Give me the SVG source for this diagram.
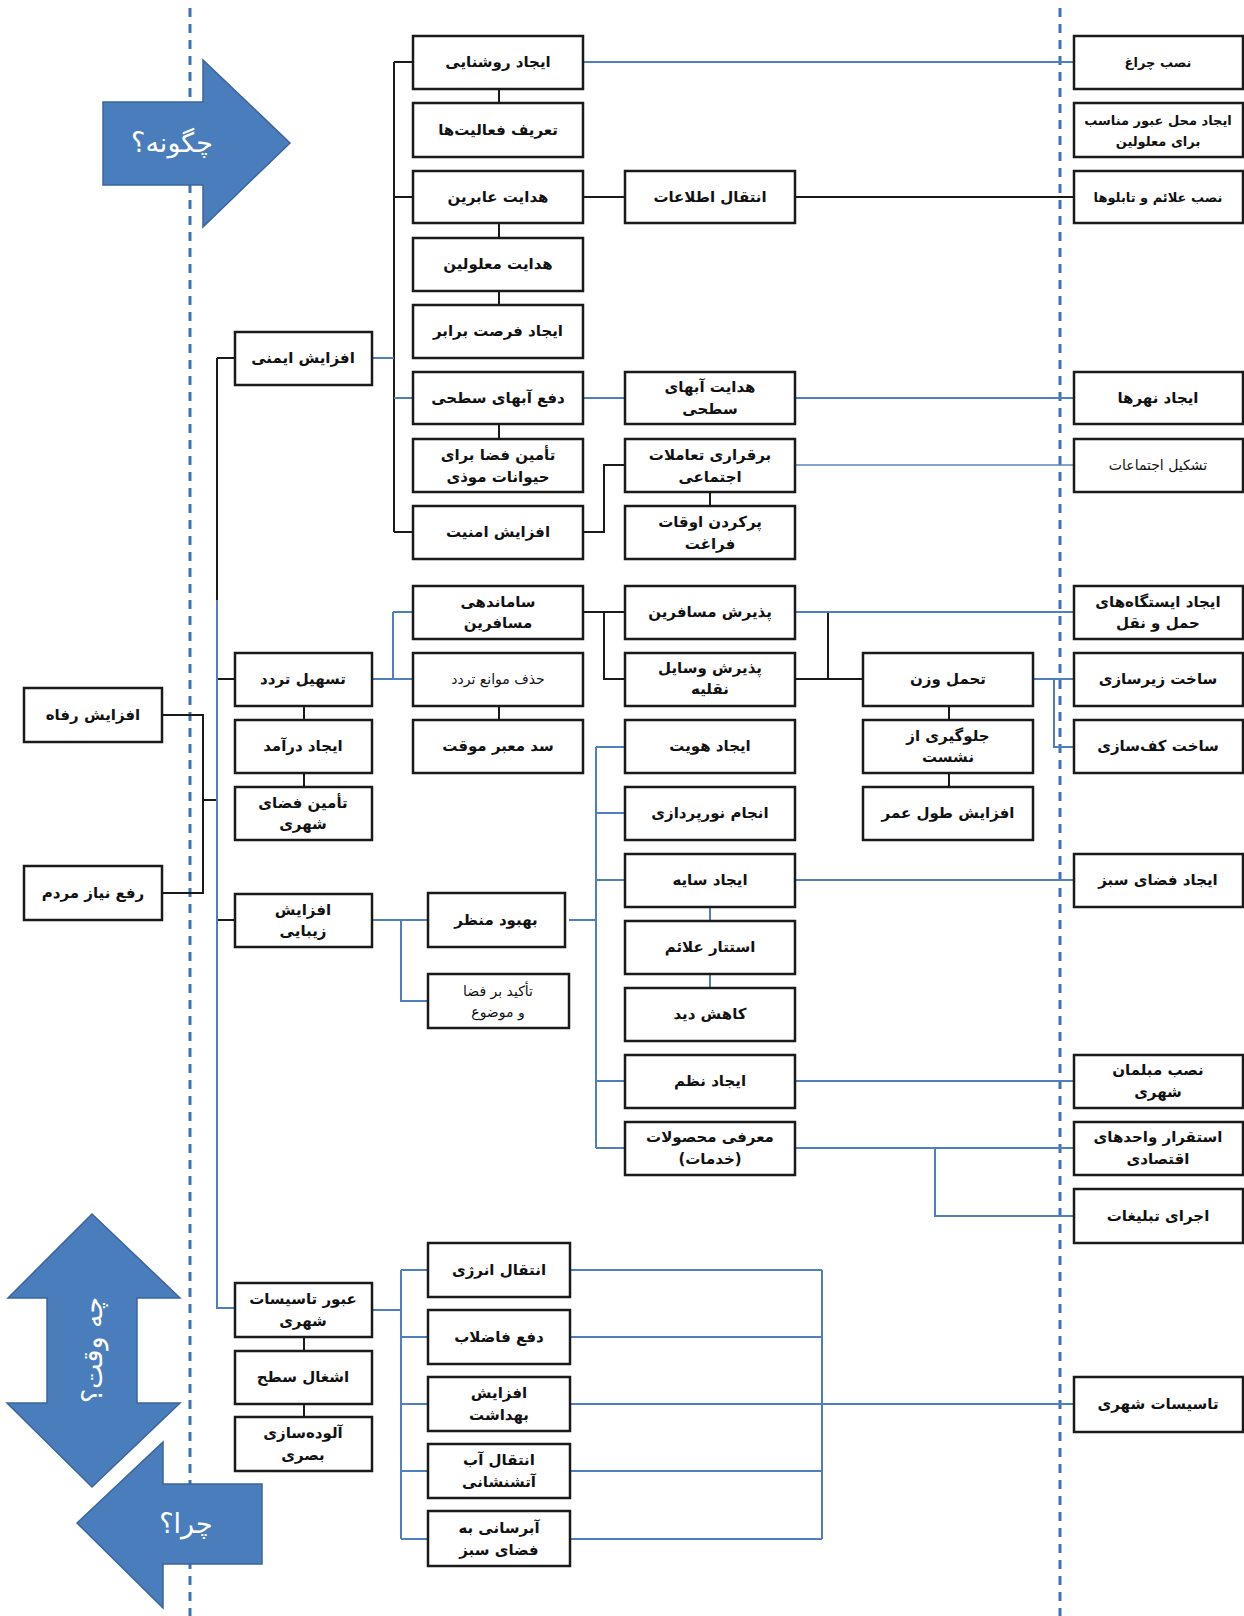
<svg xmlns="http://www.w3.org/2000/svg" width="1244" height="1616" viewBox="0 0 1244 1616">
<style>
.box rect{fill:#fff;stroke:#1a1a1a;stroke-width:2.5}
.box text{font-family:"DejaVu Sans",sans-serif;font-weight:bold;font-size:15px;fill:#111;text-anchor:middle}
.box text.s{font-size:13px}
.box text.n{font-weight:normal;font-size:14px}
.k{fill:none;stroke:#1a1a1a;stroke-width:2}
.b{fill:none;stroke:#4f7fbf;stroke-width:2}
.bt{fill:none;stroke:#5a85bd;stroke-width:1.3}
.dash{stroke:#3f72b5;stroke-width:3;stroke-dasharray:9 7}
.arrow{fill:#4a7dbb;stroke:#3a659c;stroke-width:1.5}
.at{font-family:"DejaVu Sans",sans-serif;font-size:27px;fill:#fff;text-anchor:middle}
</style>
<rect width="1244" height="1616" fill="#fff"/>
<g id="guides">
<line class="dash" x1="190" y1="8" x2="190" y2="1616"/>
<line class="dash" x1="1060" y1="8" x2="1060" y2="1616"/>
</g>
<g id="arrow-how">
<polygon class="arrow" points="103,102 203,102 203,60 290,143 203,227 203,185 103,185"/>
<text class="at" x="172" y="152" direction="rtl">چگونه؟</text>
</g>
<g id="arrow-when">
<polygon class="arrow" points="92,1214 180,1298 137,1298 137,1403 180,1403 92,1487 7,1403 47,1403 47,1298 8,1298"/>
<text class="at" transform="translate(102,1350) rotate(-90)" direction="rtl">چه وقت؟</text>
</g>
<g id="arrow-why">
<polygon class="arrow" points="77,1523 163,1442 163,1484 262,1484 262,1564 163,1564 163,1608"/>
<text class="at" x="186" y="1533" direction="rtl">چرا؟</text>
</g>
<g id="connectors">
<path class="k" d="M394 62V532M394 62H413M394 197H413M394 532H413"/>
<path class="k" d="M583 197H625M795 197H1074"/>
<path class="k" d="M583 532H604V465H625"/>
<path class="k" d="M499 89V103M499 223V238M499 291V305M499 424V439M499 706V720M710 492V506M949 706V720M949 773V787M304 706V720M304 773V787M304 1337V1351M304 1404V1417"/>
<path class="k" d="M217 358V600M217 358H235M217 679H235M217 920H235"/>
<path class="k" d="M162 715H203V893H162M203 800H217"/>
<path class="k" d="M583 612H625M604 612V679H625"/>
<path class="k" d="M828 612V679M795 679H863"/>
<path class="b" d="M372 358H394M394 398H413M583 62H1074M583 398H625M795 398H1074"/>
<path class="bt" d="M795 465H1074"/>
<path class="b" d="M217 600V1308H235"/>
<path class="b" d="M372 679H393M393 612V679M393 612H413M393 679H413"/>
<path class="b" d="M795 612H1074"/>
<path class="b" d="M1033 679H1074M1054 679V747H1074"/>
<path class="b" d="M372 920H428M401 920V1001H428"/>
<path class="b" d="M569 920H596M596 747V1148M596 747H625M596 813H625M596 880H625M596 1081H625M596 1148H625"/>
<path class="b" d="M710 907V921M710 974V988"/>
<path class="b" d="M795 880H1074M795 1081H1074M795 1148H1074M935 1148V1216H1074"/>
<path class="b" d="M372 1310H401M401 1270V1539M401 1270H428M401 1337H428M401 1404H428M401 1471H428M401 1539H428"/>
<path class="b" d="M570 1270H822M570 1337H822M570 1404H822M570 1471H822M570 1539H822M822 1270V1539M822 1404H1074"/>
</g>
<g id="n-refah" class="box"><rect x="24" y="688" width="138" height="54"/><text x="93" y="720" direction="rtl">افزایش رفاه</text></g>
<g id="n-niaz" class="box"><rect x="24" y="866" width="138" height="54"/><text x="93" y="898" direction="rtl">رفع نیاز مردم</text></g>
<g id="n-imeni" class="box"><rect x="235" y="332" width="137" height="53"/><text x="303" y="363" direction="rtl">افزایش ایمنی</text></g>
<g id="n-tashil" class="box"><rect x="235" y="653" width="137" height="53"/><text x="303" y="684" direction="rtl">تسهیل تردد</text></g>
<g id="n-daramad" class="box"><rect x="235" y="720" width="137" height="53"/><text x="303" y="751" direction="rtl">ایجاد درآمد</text></g>
<g id="n-fazaye-shahri" class="box"><rect x="235" y="787" width="137" height="53"/><text x="303" y="808" direction="rtl">تأمین فضای</text><text x="303" y="829" direction="rtl">شهری</text></g>
<g id="n-zibaei" class="box"><rect x="235" y="894" width="137" height="53"/><text x="303" y="915" direction="rtl">افزایش</text><text x="303" y="936" direction="rtl">زیبایی</text></g>
<g id="n-obur" class="box"><rect x="235" y="1283" width="137" height="54"/><text x="303" y="1304" direction="rtl">عبور تاسیسات</text><text x="303" y="1326" direction="rtl">شهری</text></g>
<g id="n-eshghal" class="box"><rect x="235" y="1351" width="137" height="53"/><text x="303" y="1382" direction="rtl">اشغال سطح</text></g>
<g id="n-alude" class="box"><rect x="235" y="1417" width="137" height="54"/><text x="303" y="1438" direction="rtl">آلوده‌سازی</text><text x="303" y="1460" direction="rtl">بصری</text></g>
<g id="n-roshanaei" class="box"><rect x="413" y="36" width="170" height="53"/><text x="498" y="67" direction="rtl">ایجاد روشنایی</text></g>
<g id="n-tarif" class="box"><rect x="413" y="103" width="170" height="54"/><text x="498" y="135" direction="rtl">تعریف فعالیت‌ها</text></g>
<g id="n-hedayat-aberin" class="box"><rect x="413" y="171" width="170" height="52"/><text x="498" y="202" direction="rtl">هدایت عابرین</text></g>
<g id="n-hedayat-malulin" class="box"><rect x="413" y="238" width="170" height="53"/><text x="498" y="269" direction="rtl">هدایت معلولین</text></g>
<g id="n-forsat" class="box"><rect x="413" y="305" width="170" height="53"/><text x="498" y="336" direction="rtl">ایجاد فرصت برابر</text></g>
<g id="n-dafe-ab" class="box"><rect x="413" y="372" width="170" height="52"/><text x="498" y="403" direction="rtl">دفع آبهای سطحی</text></g>
<g id="n-heyvanat" class="box"><rect x="413" y="439" width="170" height="53"/><text x="498" y="460" direction="rtl">تأمین فضا برای</text><text x="498" y="482" direction="rtl">حیوانات موذی</text></g>
<g id="n-amniat" class="box"><rect x="413" y="506" width="170" height="53"/><text x="498" y="537" direction="rtl">افزایش امنیت</text></g>
<g id="n-samandehi" class="box"><rect x="413" y="586" width="170" height="53"/><text x="498" y="607" direction="rtl">ساماندهی</text><text x="498" y="628" direction="rtl">مسافرین</text></g>
<g id="n-hazf" class="box"><rect x="413" y="653" width="170" height="53"/><text class="n" x="498" y="684" direction="rtl">حذف موانع تردد</text></g>
<g id="n-sad" class="box"><rect x="413" y="720" width="170" height="53"/><text x="498" y="751" direction="rtl">سد معبر موقت</text></g>
<g id="n-behbud" class="box"><rect x="428" y="893" width="137" height="54"/><text x="496" y="925" direction="rtl">بهبود منظر</text></g>
<g id="n-takid" class="box"><rect x="428" y="974" width="141" height="54"/><text class="n" x="498" y="996" direction="rtl">تأکید بر فضا</text><text class="n" x="498" y="1017" direction="rtl">و موضوع</text></g>
<g id="n-energy" class="box"><rect x="428" y="1243" width="142" height="54"/><text x="499" y="1275" direction="rtl">انتقال انرژی</text></g>
<g id="n-fazelab" class="box"><rect x="428" y="1310" width="142" height="54"/><text x="499" y="1342" direction="rtl">دفع فاضلاب</text></g>
<g id="n-behdasht" class="box"><rect x="428" y="1377" width="142" height="54"/><text x="499" y="1398" direction="rtl">افزایش</text><text x="499" y="1420" direction="rtl">بهداشت</text></g>
<g id="n-atashneshani" class="box"><rect x="428" y="1444" width="142" height="54"/><text x="499" y="1465" direction="rtl">انتقال آب</text><text x="499" y="1487" direction="rtl">آتشنشانی</text></g>
<g id="n-abresani" class="box"><rect x="428" y="1511" width="142" height="55"/><text x="499" y="1533" direction="rtl">آبرسانی به</text><text x="499" y="1555" direction="rtl">فضای سبز</text></g>
<g id="n-etelaat" class="box"><rect x="625" y="171" width="170" height="52"/><text x="710" y="202" direction="rtl">انتقال اطلاعات</text></g>
<g id="n-hedayat-ab" class="box"><rect x="625" y="372" width="170" height="52"/><text x="710" y="392" direction="rtl">هدایت آبهای</text><text x="710" y="414" direction="rtl">سطحی</text></g>
<g id="n-taamolat" class="box"><rect x="625" y="439" width="170" height="53"/><text x="710" y="460" direction="rtl">برقراری تعاملات</text><text x="710" y="482" direction="rtl">اجتماعی</text></g>
<g id="n-faraghat" class="box"><rect x="625" y="506" width="170" height="53"/><text x="710" y="527" direction="rtl">پرکردن اوقات</text><text x="710" y="549" direction="rtl">فراغت</text></g>
<g id="n-pazirash-mosafer" class="box"><rect x="625" y="586" width="170" height="53"/><text x="710" y="617" direction="rtl">پذیرش مسافرین</text></g>
<g id="n-pazirash-vasayel" class="box"><rect x="625" y="653" width="170" height="53"/><text x="710" y="673" direction="rtl">پذیرش وسایل</text><text x="710" y="694" direction="rtl">نقلیه</text></g>
<g id="n-hoviat" class="box"><rect x="625" y="720" width="170" height="53"/><text x="710" y="751" direction="rtl">ایجاد هویت</text></g>
<g id="n-norpardazi" class="box"><rect x="625" y="787" width="170" height="53"/><text x="710" y="818" direction="rtl">انجام نورپردازی</text></g>
<g id="n-saye" class="box"><rect x="625" y="854" width="170" height="53"/><text x="710" y="885" direction="rtl">ایجاد سایه</text></g>
<g id="n-estetar" class="box"><rect x="625" y="921" width="170" height="53"/><text x="710" y="952" direction="rtl">استتار علائم</text></g>
<g id="n-kahesh" class="box"><rect x="625" y="988" width="170" height="53"/><text x="710" y="1019" direction="rtl">کاهش دید</text></g>
<g id="n-nazm" class="box"><rect x="625" y="1055" width="170" height="53"/><text x="710" y="1086" direction="rtl">ایجاد نظم</text></g>
<g id="n-moarefi" class="box"><rect x="625" y="1122" width="170" height="53"/><text x="710" y="1142" direction="rtl">معرفی محصولات</text><text x="710" y="1164" direction="rtl">(خدمات)</text></g>
<g id="n-tahamol" class="box"><rect x="863" y="653" width="170" height="53"/><text x="948" y="684" direction="rtl">تحمل وزن</text></g>
<g id="n-neshast" class="box"><rect x="863" y="720" width="170" height="53"/><text x="948" y="741" direction="rtl">جلوگیری از</text><text x="948" y="762" direction="rtl">نشست</text></g>
<g id="n-omr" class="box"><rect x="863" y="787" width="170" height="53"/><text x="948" y="818" direction="rtl">افزایش طول عمر</text></g>
<g id="n-cheragh" class="box"><rect x="1074" y="36" width="169" height="53"/><text class="s" x="1158" y="67" direction="rtl">نصب چراغ</text></g>
<g id="n-mahal-obur" class="box"><rect x="1074" y="103" width="169" height="54"/><text class="s" x="1158" y="125" direction="rtl">ایجاد محل عبور مناسب</text><text class="s" x="1158" y="146" direction="rtl">برای معلولین</text></g>
<g id="n-alaem" class="box"><rect x="1074" y="171" width="169" height="52"/><text class="s" x="1158" y="202" direction="rtl">نصب علائم و تابلوها</text></g>
<g id="n-nahr" class="box"><rect x="1074" y="372" width="169" height="52"/><text x="1158" y="403" direction="rtl">ایجاد نهرها</text></g>
<g id="n-ejtemaat" class="box"><rect x="1074" y="439" width="169" height="53"/><text class="n" x="1158" y="470" direction="rtl">تشکیل اجتماعات</text></g>
<g id="n-istgah" class="box"><rect x="1074" y="586" width="169" height="53"/><text x="1158" y="607" direction="rtl">ایجاد ایستگاه‌های</text><text x="1158" y="628" direction="rtl">حمل و نقل</text></g>
<g id="n-zirsazi" class="box"><rect x="1074" y="653" width="169" height="53"/><text x="1158" y="684" direction="rtl">ساخت زیرسازی</text></g>
<g id="n-kafsazi" class="box"><rect x="1074" y="720" width="169" height="53"/><text x="1158" y="751" direction="rtl">ساخت کف‌سازی</text></g>
<g id="n-fazaye-sabz" class="box"><rect x="1074" y="854" width="169" height="53"/><text x="1158" y="885" direction="rtl">ایجاد فضای سبز</text></g>
<g id="n-mobleman" class="box"><rect x="1074" y="1055" width="169" height="53"/><text x="1158" y="1075" direction="rtl">نصب مبلمان</text><text x="1158" y="1097" direction="rtl">شهری</text></g>
<g id="n-esteghrar" class="box"><rect x="1074" y="1122" width="169" height="53"/><text x="1158" y="1142" direction="rtl">استقرار واحدهای</text><text x="1158" y="1164" direction="rtl">اقتصادی</text></g>
<g id="n-tablighat" class="box"><rect x="1074" y="1189" width="169" height="54"/><text x="1158" y="1221" direction="rtl">اجرای تبلیغات</text></g>
<g id="n-tasisat" class="box"><rect x="1074" y="1377" width="169" height="55"/><text x="1158" y="1409" direction="rtl">تاسیسات شهری</text></g>
</svg>
